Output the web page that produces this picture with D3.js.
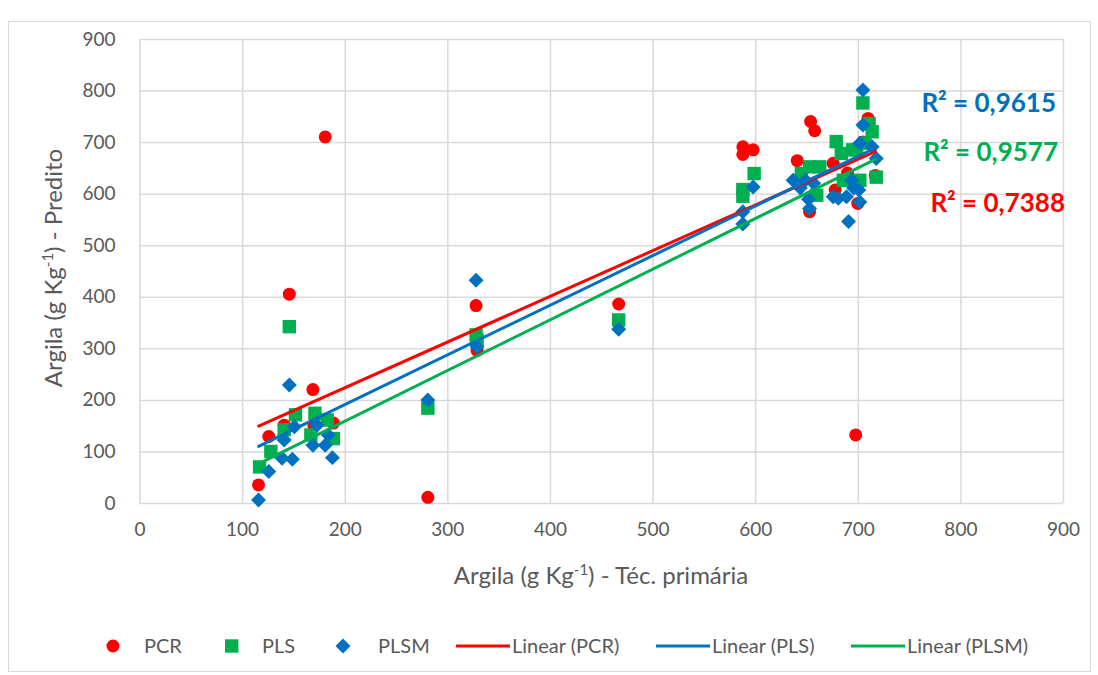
<!DOCTYPE html>
<html>
<head>
<meta charset="utf-8">
<script src="https://cdn.jsdelivr.net/npm/d3@7"></script>
<style>
  body { margin: 0; background: #fff; }
  svg { display: block; font-family: Lato, "Open Sans", sans-serif; }
</style>
</head>
<body>
<div id="chart"></div>
<script>
// values (g Kg-1)
const pcrX = [116, 126, 141, 146, 169, 170, 181, 189, 281, 328, 329, 467, 588, 598, 588, 641, 654, 658, 653, 676, 678, 700, 698, 710, 717, 690, 705];
const pcrY = [35, 129, 151, 405, 220, 150, 710, 155, 11, 383, 296, 386, 691, 685, 676, 664, 740, 722, 565, 659, 607, 581, 132, 746, 635, 640, 700];

const plsX = [117, 128, 141, 146, 152, 167, 171, 183, 189, 281, 328, 329, 467, 588, 588, 599, 645, 653, 663, 660, 679, 684, 686, 695, 699, 702, 705, 707, 711, 714, 718];
const plsY = [70, 100, 142, 342, 171, 132, 174, 161, 125, 184, 326, 316, 355, 608, 595, 639, 639, 652, 652, 597, 701, 678, 626, 685, 685, 626, 776, 698, 736, 720, 632];

const plsmX = [116, 126, 139, 141, 146, 149, 151, 169, 173, 181, 184, 188, 281, 328, 329, 467, 588, 588, 598, 637, 644, 649, 652, 653, 657, 676, 681, 689, 691, 694, 696, 701, 702, 702, 705, 705, 714, 718];
const plsmY = [6, 61, 87, 122, 229, 85, 148, 112, 151, 112, 132, 88, 200, 432, 303, 337, 565, 541, 613, 626, 611, 626, 589, 571, 620, 594, 591, 594, 546, 626, 611, 607, 584, 698, 733, 801, 691, 668];

// trendline end points as drawn in the reference
const trendPCR = [[115, 148], [718.5, 683]];
const trendPLS = [[115, 109], [718.5, 690]];
const trendPLSM = [[115, 75], [718.5, 668]];

const r2Labels = ["R² = 0,9615", "R² = 0,9577", "R² = 0,7388"];
const xTicks = [0, 100, 200, 300, 400, 500, 600, 700, 800, 900];
const yTicks = [0, 100, 200, 300, 400, 500, 600, 700, 800, 900];

const RED = "#ff0000", GREEN = "#00b050", BLUE = "#0070c0";
const W = 1098, H = 675;

const svg = d3.select("#chart").append("svg")
    .attr("width", W)
    .attr("height", H);

// chart frame
svg.append("rect")
    .attr("x", 8.5).attr("y", 21.5)
    .attr("width", 1082).attr("height", 650)
    .attr("fill", "#fff")
    .attr("stroke", "#d9d9d9");

const x = d3.scaleLinear().domain([0, 900]).range([139.5, 1063]);
const y = d3.scaleLinear().domain([0, 900]).range([503, 39]);

// grid
svg.append("g")
    .attr("transform", "translate(0," + y(0) + ")")
    .call(d3.axisBottom(x).tickValues(xTicks).tickSize(-(y(0) - y(900))).tickFormat(""))
    .call(g => g.select(".domain").remove())
    .call(g => g.selectAll("line").attr("stroke", "#d9d9d9").attr("stroke-width", 1.5));

svg.append("g")
    .attr("transform", "translate(" + x(0) + ",0)")
    .call(d3.axisLeft(y).tickValues(yTicks).tickSize(-(x(900) - x(0))).tickFormat(""))
    .call(g => g.select(".domain").remove())
    .call(g => g.selectAll("line").attr("stroke", "#d9d9d9").attr("stroke-width", 1.5));

// tick labels
svg.append("g")
    .attr("transform", "translate(0," + y(0) + ")")
    .call(d3.axisBottom(x).tickValues(xTicks).tickSize(0).tickPadding(20))
    .call(g => g.select(".domain").remove())
    .call(g => g.selectAll("text").attr("fill", "#595959").style("font-size", "19px").style("font-family", "Lato"));

svg.append("g")
    .attr("transform", "translate(" + x(0) + ",0)")
    .call(d3.axisLeft(y).tickValues(yTicks).tickSize(0).tickPadding(24))
    .call(g => g.select(".domain").remove())
    .call(g => g.selectAll("text").attr("fill", "#595959").style("font-size", "19px").style("font-family", "Lato"));

// axis titles
const xTitle = svg.append("text")
    .attr("x", 601).attr("y", 584)
    .attr("text-anchor", "middle")
    .attr("fill", "#595959")
    .style("font-size", "24px");
xTitle.append("tspan").text("Argila (g Kg");
xTitle.append("tspan").text("-1").attr("dy", -9).style("font-size", "15px");
xTitle.append("tspan").text(") - Téc. primária").attr("dy", 9);

const yTitle = svg.append("text")
    .attr("transform", "translate(62,268) rotate(-90)")
    .attr("text-anchor", "middle")
    .attr("fill", "#595959")
    .style("font-size", "24px");
yTitle.append("tspan").text("Argila (g Kg");
yTitle.append("tspan").text("-1").attr("dy", -9).style("font-size", "15px");
yTitle.append("tspan").text(") - Predito").attr("dy", 9);

// markers
const diamond = d3.symbol().type(d3.symbolSquare).size(112);

svg.append("g").selectAll("circle")
    .data(d3.zip(pcrX, pcrY))
    .join("circle")
    .attr("cx", d => x(d[0]))
    .attr("cy", d => y(d[1]))
    .attr("r", 6.5)
    .attr("fill", RED);

svg.append("g").selectAll("rect")
    .data(d3.zip(plsX, plsY))
    .join("rect")
    .attr("x", d => x(d[0]) - 6.7)
    .attr("y", d => y(d[1]) - 6.7)
    .attr("width", 13.4)
    .attr("height", 13.4)
    .attr("fill", GREEN);

svg.append("g").selectAll("path")
    .data(d3.zip(plsmX, plsmY))
    .join("path")
    .attr("transform", d => "translate(" + x(d[0]) + "," + y(d[1]) + ") rotate(45)")
    .attr("d", diamond)
    .attr("fill", BLUE);

// trendlines
const line = d3.line().x(d => x(d[0])).y(d => y(d[1]));
[[trendPCR, RED], [trendPLS, BLUE], [trendPLSM, GREEN]].forEach(([pts, c]) => {
  svg.append("path")
      .attr("d", line(pts))
      .attr("stroke", c)
      .attr("stroke-width", 3)
      .attr("fill", "none");
});

// R² labels
const r2 = svg.append("g").style("font-size", "26px").style("font-weight", "bold").attr("text-anchor", "end");
r2.append("text").attr("x", 1056).attr("y", 112).attr("fill", BLUE).text(r2Labels[0]);
r2.append("text").attr("x", 1058).attr("y", 161).attr("fill", GREEN).text(r2Labels[1]);
r2.append("text").attr("x", 1065).attr("y", 212).attr("fill", RED).text(r2Labels[2]);

// legend
const leg = svg.append("g").attr("transform", "translate(0,646)").style("font-size", "20px").attr("fill", "#595959");
leg.append("circle").attr("cx", 113).attr("cy", 0).attr("r", 6.5).attr("fill", RED);
leg.append("text").attr("x", 144).attr("y", 7).text("PCR");
leg.append("rect").attr("x", 225).attr("y", -6.7).attr("width", 13.4).attr("height", 13.4).attr("fill", GREEN);
leg.append("text").attr("x", 262).attr("y", 7).text("PLS");
leg.append("path").attr("transform", "translate(343,0) rotate(45)").attr("d", diamond).attr("fill", BLUE);
leg.append("text").attr("x", 378).attr("y", 7).text("PLSM");
const legLines = [[456, "Linear (PCR)", RED], [656, "Linear (PLS)", BLUE], [851, "Linear (PLSM)", GREEN]];
legLines.forEach(([lx, t, c]) => {
  leg.append("line").attr("x1", lx).attr("x2", lx + 54).attr("y1", 0).attr("y2", 0)
      .attr("stroke", c).attr("stroke-width", 3);
  leg.append("text").attr("x", lx + 56).attr("y", 7).text(t);
});
</script>
</body>
</html>
